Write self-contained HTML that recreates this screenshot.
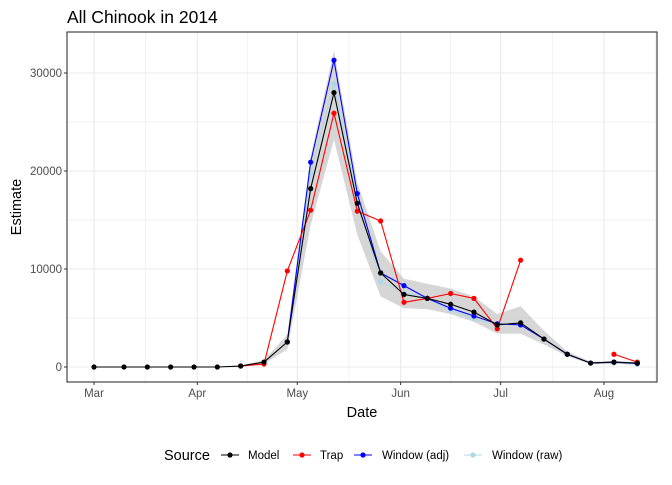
<!DOCTYPE html>
<html><head><meta charset="utf-8"><style>
body{margin:0;background:#fff;font-family:"Liberation Sans",Arial,sans-serif}
svg text{font-family:"Liberation Sans",Arial,sans-serif}
</style></head><body>
<svg id="c" width="672" height="480" xmlns="http://www.w3.org/2000/svg"></svg>
<script>
const days=[0,9,16,23,30,37,44,51,58,65,72,79,86,93,100,107,114,121,128,135,142,149,156,163];
const model=[0,0,0,0,0,0,100,500,2550,18200,28000,16700,9600,7400,7000,6400,5600,4300,4500,2850,1300,400,500,400];
const lower=[0,0,0,0,0,0,50,300,1800,14500,23200,13500,7200,6000,5900,5400,4600,3400,3400,2300,1100,300,300,250];
const upper=[0,0,0,0,0,0,150,700,3300,21500,32300,18800,11800,9000,8500,8000,7200,5400,6200,3700,1600,550,600,500];
const trapDays=[44,51,58,65,72,79,86,93,100,107,114,121,128,156,163];
const trap=[100,300,9800,16000,25900,15900,14900,6600,7000,7500,7000,3900,10900,1300,500];
const winDays=[58,65,72,79,86,93,100,107,114,121,128,135,142,149,156,163];
const winAdj=[2550,20900,31300,17700,9600,8300,7000,6000,5200,4400,4300,2850,1300,400,500,350];
const winRaw=[2550,19800,28900,17200,8700,7600,7000,5800,4900,4300,4400,2850,1300,400,400,300];
const yTicks=[0,10000,20000,30000];
const xTickDays=[0,31,61,92,122,153];
const xTickLabels=["Mar","Apr","May","Jun","Jul","Aug"];
const svg=document.getElementById('c');const NS='http://www.w3.org/2000/svg';
const L=67,R=657,T=32,B=382;
const x=d=>94+d*3.333;
const y=v=>367-v*0.0098;
function el(tag,a,p){const e=document.createElementNS(NS,tag);for(const k in a)e.setAttribute(k,a[k]);(p||svg).appendChild(e);return e;}
for(let i=0;i<yTicks.length;i++){
 const g=el('line',{x1:L,x2:R,y1:y(yTicks[i]),y2:y(yTicks[i]),stroke:'#ebebeb','stroke-width':1.1});
 
 if(i<yTicks.length-1){const m=el('line',{x1:L,x2:R,y1:y(yTicks[i]+5000),y2:y(yTicks[i]+5000),stroke:'#ededed','stroke-width':0.7});
 }
}
for(let i=0;i<xTickDays.length;i++){
 const g=el('line',{x1:x(xTickDays[i]),x2:x(xTickDays[i]),y1:T,y2:B,stroke:'#ebebeb','stroke-width':1.1});
 
 const nd=i<xTickDays.length-1?(xTickDays[i]+xTickDays[i+1])/2:xTickDays[i]+15.5;
 const m=el('line',{x1:x(nd),x2:x(nd),y1:T,y2:B,stroke:'#ededed','stroke-width':0.7});
 
}
let pts=days.map((d,i)=>x(d)+','+y(upper[i]));
pts=pts.concat(days.slice().reverse().map((d,j)=>{const i=days.length-1-j;return x(d)+','+y(lower[i]);}));
const rib=el('polygon',{points:pts.join(' '),fill:'#c8c8c8','fill-opacity':0.75});

function series(ds,vs,col,name,segs){
 const g=el('g',{});
 segs.forEach(([a,b])=>{
  const p=el('polyline',{points:ds.slice(a,b).map((d,i)=>x(d)+','+y(vs[a+i])).join(' '),fill:'none',stroke:col,'stroke-width':1.1},g);
  
 });
 ds.forEach((d,i)=>{const c=el('circle',{cx:x(d),cy:y(vs[i]),r:2.6,fill:col},g);
  });
}
series(winDays,winRaw,'#add8e6','window-raw',[[0,winDays.length]]);
series(winDays,winAdj,'#0000ff','window-adj',[[0,winDays.length]]);
series(trapDays,trap,'#ff0000','trap',[[0,13],[13,15]]);
series(days,model,'#000000','model',[[0,days.length]]);
const fr=el('rect',{x:L,y:T,width:R-L,height:B-T,fill:'none',stroke:'#333','stroke-width':1.1});

yTicks.forEach(v=>{
 const t=el('line',{x1:L-3,x2:L,y1:y(v),y2:y(v),stroke:'#333'});
 const tx=el('text',{x:L-5,y:y(v)+4,'text-anchor':'end','font-size':11.5,fill:'#4d4d4d'});tx.textContent=v;
 
});
xTickDays.forEach((d,i)=>{
 const t=el('line',{x1:x(d),x2:x(d),y1:B,y2:B+3,stroke:'#333'});
 const tx=el('text',{x:x(d),y:B+15,'text-anchor':'middle','font-size':11.5,fill:'#4d4d4d'});tx.textContent=xTickLabels[i];
 
});
let t=el('text',{x:67,y:23,'font-size':17.5,fill:'#000'});t.textContent='All Chinook in 2014';

t=el('text',{x:362,y:417,'text-anchor':'middle','font-size':14.5,fill:'#000'});t.textContent='Date';

t=el('text',{x:0,y:0,'text-anchor':'middle','font-size':14.5,fill:'#000',transform:'translate(21,207) rotate(-90)'});t.textContent='Estimate';

t=el('text',{x:164,y:460,'font-size':14.5,fill:'#000'});t.textContent='Source';

const leg=[['Model','#000',221,248],['Trap','#ff0000',293,320],['Window (adj)','#0000ff',354,382],['Window (raw)','#add8e6',464,492]];
leg.forEach(([n,c,kx,tx])=>{
 const g=el('g',{});
 el('line',{x1:kx,x2:kx+18,y1:455,y2:455,stroke:c,'stroke-width':1.1},g);
 el('circle',{cx:kx+9,cy:455,r:2.6,fill:c},g);
 const tt=el('text',{x:tx,y:459,'font-size':11.5,fill:'#000'},g);tt.textContent=n;
});
</script>
</body></html>
